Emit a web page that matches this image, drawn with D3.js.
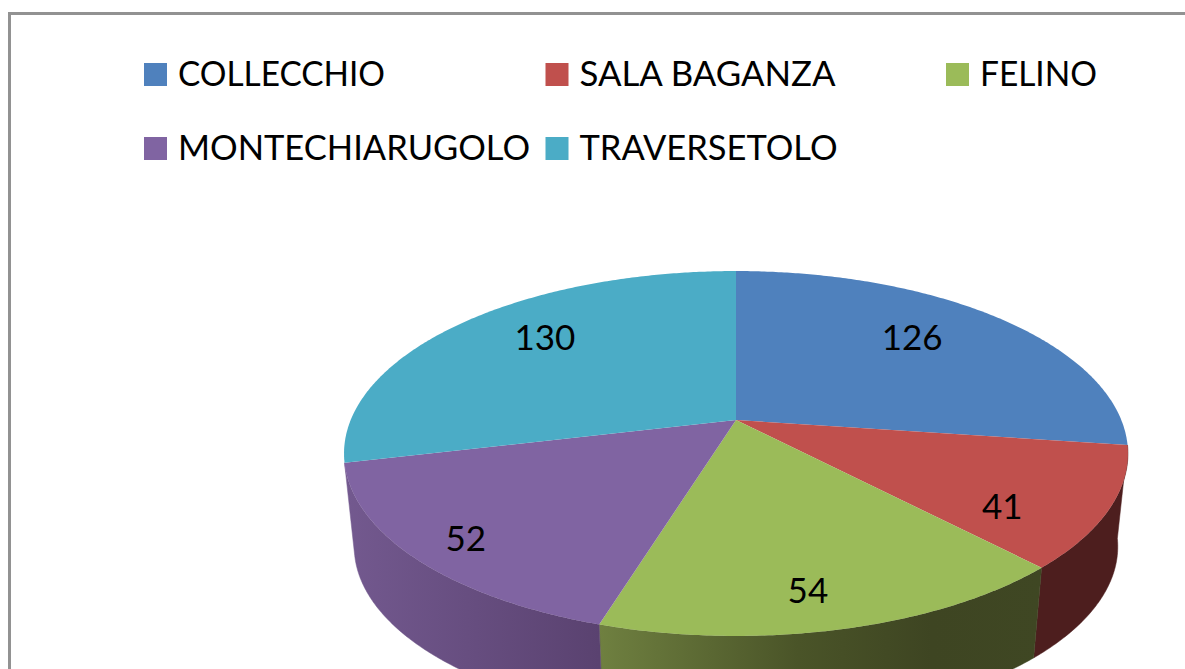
<!DOCTYPE html>
<html>
<head>
<meta charset="utf-8">
<script src="https://cdn.jsdelivr.net/npm/d3@7"></script>
<style>
  html, body { margin: 0; padding: 0; background: #fff; overflow: hidden; }
  text { font-family: Lato, "Open Sans", sans-serif; fill: #000; }
</style>
</head>
<body>
<div id="chart"></div>
<script>
const categories = ['COLLECCHIO', 'SALA BAGANZA', 'FELINO', 'MONTECHIARUGOLO', 'TRAVERSETOLO'];
const values = [126, 41, 54, 52, 130];
const colors = ['#4f81bd', '#c0504d', '#9bbb59', '#8064a2', '#4bacc6'];

const WIDTH = 1185;
const HEIGHT = 669;
const DEG = Math.PI / 180;

// pie geometry, a tilted disc seen in perspective
const CENTER = { X: 736, Y: 420 };
const RADIUS = { X: 385.3, Y: 176.3 };
const TILT = 0.1836;
const DEPTH = 94;
const BOTTOM_SCALE = 0.974;

// the reference squeezes the back of the pie and stretches the front
const warp = d3.scaleLinear()
    .domain([0, 112.6, 149.2, 197.4, 243.9, 360])
    .range([0, 98, 136.6, 197, 256.6, 360]);

const legendColumns = [144, 545.5, 946];
const legendRows = [63, 137];
const legendGrid = [[0, 0], [1, 0], [2, 0], [0, 1], [1, 1]];
const legendTextWidth = [207, 256, 117, 352, 258];

// label spot per slice, as share of the radius and a turn in degrees
const labelRadius = [0.718, 0.778, 0.838, 0.866, 0.748];
const labelTurn = [-4.8, 8.2, 2.3, -0.7, 5.2];

const svg = d3.select('#chart')
    .append('svg')
    .attr('width', WIDTH)
    .attr('height', HEIGHT)
    .style('display', 'block');

const defs = svg.append('defs');

function project(angle, r, bottom) {
    let x = r * Math.sin(angle);
    let y = -r * Math.cos(angle);
    let w = 1 - TILT * y;
    let s = bottom ? BOTTOM_SCALE : 1;
    return [
        CENTER.X + s * RADIUS.X * x / w,
        CENTER.Y + (bottom ? DEPTH : 0) + s * RADIUS.Y * y / w
    ];
}

function warped(a) {
    return warp(a / DEG) * DEG;
}

function arcAngles(start, end) {
    let n = Math.max(2, Math.ceil((end - start) / (0.5 * DEG)));
    return d3.range(n + 1).map(i => start + (end - start) * i / n);
}

const line = d3.line();
const slices = d3.pie().sort(null).value(d => d)(values);

// frame
svg.append('rect')
    .attr('x', 9.5)
    .attr('y', 13.5)
    .attr('width', WIDTH + 20)
    .attr('height', HEIGHT + 20)
    .attr('fill', 'none')
    .attr('stroke', '#929292')
    .attr('stroke-width', 3);

// legend
const legend = svg.selectAll('.legend')
    .data(categories)
    .enter()
    .append('g')
    .attr('class', 'legend')
    .attr('transform', (d, i) => `translate(${legendColumns[legendGrid[i][0]]}, ${legendRows[legendGrid[i][1]]})`);

legend.append('rect')
    .attr('width', 23)
    .attr('height', 23)
    .attr('fill', (d, i) => colors[i]);

legend.append('text')
    .attr('x', 34)
    .attr('y', 23)
    .attr('font-size', 34)
    .attr('textLength', (d, i) => legendTextWidth[i])
    .attr('lengthAdjust', 'spacingAndGlyphs')
    .text(d => d);

// side walls, only the front slices show one
const sideStops = {
    1: [['0%', '#4d1e1e'], ['100%', '#4d1e1e']],
    2: [['0%', '#6f8040'], ['45%', '#4a5428'], ['75%', '#3e4522'], ['100%', '#3f4723']],
    3: [['0%', '#73598f'], ['100%', '#5a4270']]
};

Object.keys(sideStops).forEach(key => {
    let i = +key;
    let angles = arcAngles(warped(slices[i].startAngle), warped(slices[i].endAngle));
    let top = angles.map(a => project(a, 1, false));
    let bottom = angles.map(a => project(a, 1, true)).reverse();
    let xs = top.map(p => p[0]);

    let gradient = defs.append('linearGradient')
        .attr('id', `side-${i}`)
        .attr('gradientUnits', 'userSpaceOnUse')
        .attr('x1', d3.min(xs))
        .attr('x2', d3.max(xs))
        .attr('y1', 0)
        .attr('y2', 0);

    gradient.selectAll('stop')
        .data(sideStops[i])
        .enter()
        .append('stop')
        .attr('offset', d => d[0])
        .attr('stop-color', d => d[1]);

    svg.append('path')
        .attr('d', line(top.concat(bottom)) + 'Z')
        .attr('fill', `url(#side-${i})`)
        .attr('stroke', `url(#side-${i})`)
        .attr('stroke-width', 0.5);
});

// top faces
svg.selectAll('.slice')
    .data(slices)
    .enter()
    .append('path')
    .attr('class', 'slice')
    .attr('d', d => {
        let rim = arcAngles(warped(d.startAngle), warped(d.endAngle)).map(a => project(a, 1, false));
        return line([[CENTER.X, CENTER.Y]].concat(rim)) + 'Z';
    })
    .attr('fill', (d, i) => colors[i]);

// value labels
svg.selectAll('.value')
    .data(slices)
    .enter()
    .append('text')
    .attr('class', 'value')
    .attr('text-anchor', 'middle')
    .attr('font-size', 35)
    .attr('transform', (d, i) => {
        let mid = warped((d.startAngle + d.endAngle) / 2) + labelTurn[i] * DEG;
        let p = project(mid, labelRadius[i], false);
        return `translate(${p[0]}, ${p[1] + 12.5})`;
    })
    .text(d => d.value);
</script>
</body>
</html>
